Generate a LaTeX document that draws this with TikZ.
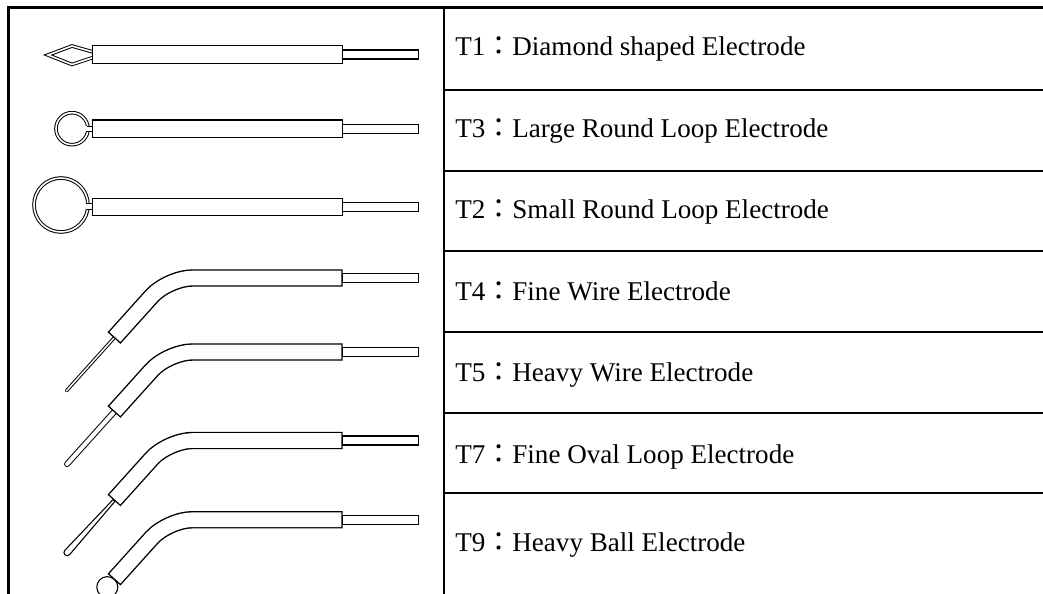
\documentclass[tikz,border=0pt]{standalone}
\usepackage{fontspec}
\setmainfont{Liberation Serif}
\newfontfamily\cjkfont{Noto Sans CJK TC}
\tikzset{
  tbl/.style={line width=1.6pt, line cap=rect},
  body/.style={draw=black, fill=white, line width=1.05pt},
  wire/.style={draw=black, line width=0.75pt, double=white, double distance=1.2pt},
  outl/.style={draw=black, fill=white, line width=0.8pt},
  lbl/.style={anchor=base west, inner sep=0pt, font=\fontsize{20.3}{24}\selectfont},
}
\newcommand{\bentbody}[1]{%
  \draw[rounded corners=18.4pt, line width=13.05pt] (342.7,#1) -- (168,#1) -- (114,#1+60);
  \draw[white, rounded corners=18.4pt, line width=10.95pt, shorten <=1.05pt, shorten >=1.05pt] (342.7,#1) -- (168,#1) -- (114,#1+60);
  \draw[body] (342.7,#1-4.5) rectangle (418.3,#1+4.5);
}
\begin{document}
\begin{tikzpicture}[x=0.75pt, y=-0.75pt]
\useasboundingbox (0,0) rectangle (1043,593);
% table
\draw[tbl] (8.5,600) -- (8.5,7.5) -- (1050,7.5);
\draw[tbl] (444,7.5) -- (444,600);
\foreach \yy in {90,171,251,332,413,493} \draw[tbl] (444,\yy) -- (1050,\yy);
% E1 diamond
\draw[wire] (93,52) -- (72,46) -- (48,55) -- (72,64.5) -- (93,57.5);
\draw[body] (92.7,45.7) rectangle (342.7,63.3);
\draw[body] (342.7,50) rectangle (418.3,59);
% E2 small loop
\draw[wire] (72,128.7) circle[radius=16];
\fill[white] (86,126.2) rectangle (93,131.2);
\draw[line width=0.75pt] (86.5,126.2) -- (93,126.2) (86.5,131.2) -- (93,131.2);
\draw[body] (92.7,119.9) rectangle (342.7,137.5);
\draw[body] (342.7,124.2) rectangle (418.3,133.2);
% E3 large loop
\draw[wire] (61,205) circle[radius=27];
\fill[white] (86,203.8) rectangle (93,209.2);
\draw[line width=0.75pt] (86.5,203.8) -- (93,203.8) (86.5,209.2) -- (93,209.2);
\draw[body] (92.7,198.2) rectangle (342.7,215.2);
\draw[body] (342.7,202.5) rectangle (418.3,211.5);
% E4 fine wire
\begin{scope}[shift={(114,338)}, rotate=228]
  \draw[line width=2.6pt, line cap=round] (0,0) -- (71,0);
  \draw[white, line width=1.1pt, line cap=round] (0,0) -- (71,0);
\end{scope}
\bentbody{278}
% E5 heavy wire
\begin{scope}[shift={(114,412)}, rotate=228]
  \draw[line width=4.5pt, line cap=round] (0,0) -- (70,0);
  \draw[white, line width=3pt, line cap=round] (0,0) -- (70,0);
\end{scope}
\bentbody{352}
% E6 fine oval loop
\begin{scope}[shift={(114,500.5)}, rotate=228]
  \draw[outl] (0,1.3) -- (70,3.2) arc[start angle=90, end angle=-90, radius=3.2] -- (0,-1.3) -- cycle;
\end{scope}
\bentbody{440.5}
% E7 heavy ball
\begin{scope}[shift={(114,579.7)}, rotate=228]
  \draw[outl] (10,0) circle[radius=10.5];
\end{scope}
\bentbody{519.7}
% labels
\node[lbl] (t1) at (455,55)  {T1{\cjkfont ：}Diamond shaped Electrode};
\node[lbl] (t3) at (455,137) {T3{\cjkfont ：}Large Round Loop Electrode};
\node[lbl] (t2) at (455,218) {T2{\cjkfont ：}Small Round Loop Electrode};
\node[lbl] (t4) at (455,300) {T4{\cjkfont ：}Fine Wire Electrode};
\node[lbl] (t5) at (455,381) {T5{\cjkfont ：}Heavy Wire Electrode};
\node[lbl] (t7) at (455,463) {T7{\cjkfont ：}Fine Oval Loop Electrode};
\node[lbl] (t9) at (455,551) {T9{\cjkfont ：}Heavy Ball Electrode};
\end{tikzpicture}
\end{document}
